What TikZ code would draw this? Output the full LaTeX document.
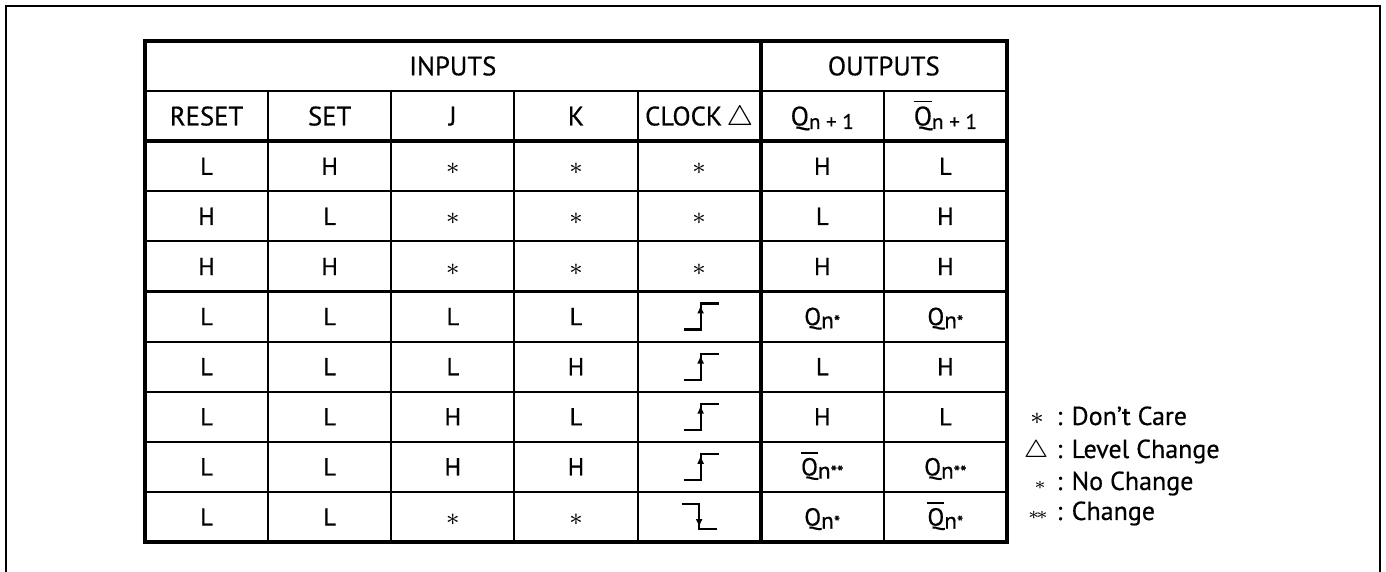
\documentclass[tikz,border=0pt]{standalone}
\usepackage{fontspec}
\setmainfont{PT Sans}[FakeBold=0.5]
\usetikzlibrary{arrows.meta}

\newcommand{\dc}{$\ast$}
\newcommand{\Qb}{$\overline{\mbox{Q}}$}
\newcommand{\hsub}[1]{\raisebox{-1pt}{\fontsize{6}{6}\selectfont #1}}
\newcommand{\dsub}[1]{\raisebox{-0.9pt}{\fontsize{6.6}{7}\selectfont #1}}
\newcommand{\nst}{n{\fontsize{5.2}{5}\selectfont *}}
\newcommand{\nstst}{n{\fontsize{5.2}{5}\selectfont **}}

\tikzset{
  frame/.style={line width=0.7pt},
  thin grid/.style={line width=0.6pt},
  thick grid/.style={line width=1.15pt},
  head/.style={inner sep=0pt, font=\fontsize{7.6}{8}\selectfont, text height=5.3pt, text depth=0pt},
  cell/.style={inner sep=0pt, font=\fontsize{7}{8}\selectfont, text height=4.9pt, text depth=0pt},
  legend/.style={inner sep=0pt, anchor=base west, font=\fontsize{7.4}{8}\selectfont},
  legsym/.style={inner sep=0pt, anchor=base, font=\fontsize{7.4}{8}\selectfont},
  steppath/.style={line width=0.6pt},
  riseedge/.pic={
    \draw[steppath] (-0.155,-0.13) -- (0.015,-0.13) -- (0.015,0.13) -- (0.195,0.13);
    \draw[steppath,-{Latex[length=2.4pt,width=2pt]}] (0.015,-0.05) -- (0.015,0.115);
  },
  falledge/.pic={
    \draw[steppath] (-0.175,0.13) -- (0,0.13) -- (0,-0.12) -- (0.175,-0.12);
    \draw[steppath,-{Latex[length=2.4pt,width=2pt]}] (0,0.05) -- (0,-0.105);
  }
}

\begin{document}
\begin{tikzpicture}
\useasboundingbox (0,0) rectangle (13.86,5.72);
% frame, open at the bottom
\draw[frame] (0.06,0) -- (0.06,5.66) -- (13.80,5.66) -- (13.80,0);

% grid of the table
\foreach \j in {1,3,4,...,9}
  \draw[thin grid] (1.45,{5.31-0.501*\j}) -- (10.07,{5.31-0.501*\j});
\foreach \i in {1,2,3,4,6}
  \draw[thin grid] ({1.45+1.2314*\i},4.809) -- ({1.45+1.2314*\i},0.30);
\draw[thick grid] (1.45,4.308) -- (10.07,4.308);
\draw[thick grid] (7.607,5.31) -- (7.607,0.30);
\draw[thick grid] (1.45,0.30) rectangle (10.07,5.31);

% headings
\node[head] (inputs) at (4.528,5.0595) {INPUTS};
\node[head] (outputs) at (8.838,5.0595) {OUTPUTS};
\foreach \t [count=\c from 0] in {RESET,SET,J,K,CLOCK\,$\triangle$,Q\hsub{n + 1},\Qb\hsub{n + 1}}
  \node[head] (h-\c) at ({1.45+1.2314*(\c+0.5)},4.5585) {\t};

% rows
\foreach \r/\row in {
  3/{L,H,\dc,\dc,\dc,H,L},
  4/{H,L,\dc,\dc,\dc,L,H},
  5/{H,H,\dc,\dc,\dc,H,H},
  6/{L,L,L,L,{},Q\dsub{\nst},Q\dsub{\nst}},
  7/{L,L,L,H,{},L,H},
  8/{L,L,H,L,{},H,L},
  9/{L,L,H,H,{},\Qb\dsub{\nstst},Q\dsub{\nstst}},
  10/{L,L,\dc,\dc,{},Q\dsub{\nst},\Qb\dsub{\nst}}}
{
  \foreach \t [count=\c from 0] in \row
    \node[cell] (c\r-\c) at ({1.45+1.2314*(\c+0.5)},{5.31-0.501*(\r-0.5)}) {\t};
}
\foreach \r in {6,...,9}
  \pic at (c\r-4) {riseedge};
\pic at (c10-4) {falledge};

% legend
\node[legsym] (dcmark) at (10.37,1.47) {$\ast$};
\node[legend] (dctext) at (10.56,1.47) {: Don't Care};
\node[legsym] (lcmark) at (10.36,1.14) {$\triangle$};
\node[legend] (lctext) at (10.56,1.14) {: Level Change};
\node[legsym] (ncmark) at (10.40,0.82) {$\scriptstyle\ast$};
\node[legend] (nctext) at (10.56,0.82) {: No Change};
\node[legsym] (chmark) at (10.38,0.52) {${\scriptstyle\ast}\!{\scriptstyle\ast}$};
\node[legend] (chtext) at (10.56,0.52) {: Change};
\end{tikzpicture}
\end{document}
